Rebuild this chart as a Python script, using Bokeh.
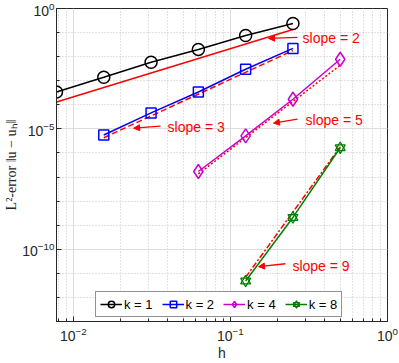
from bokeh.plotting import figure
from bokeh.models import (FixedTicker, Arrow, NormalHead, Legend, LegendItem,
                          ColumnDataSource, Range1d)
from bokeh.core.properties import value
from bokeh.embed import file_html
from bokeh.resources import INLINE

# ---- data ----
h_k1 = [1/128, 1/64, 1/32, 1/16, 1/8, 1/4]
err_k1 = [3.4e-4, 1.4e-3, 5.9e-3, 2.0e-2, 7.6e-2, 2.4e-1]
h_k2 = [1/64, 1/32, 1/16, 1/8, 1/4]
err_k2 = [5.6e-6, 4.6e-5, 3.4e-4, 3.0e-3, 2.2e-2]
h_k4 = [1/16, 1/8, 1/4, 1/2]
err_k4 = [1.7e-7, 5.1e-6, 1.7e-4, 7.8e-3]
h_k8 = [1/8, 1/4, 1/2]
err_k8 = [4.8e-12, 2.1e-9, 1.64e-6]

# reference slope lines (end points)
ref2_h = [1/128, 1/4]
ref2_e = [1.3e-4, 1.35e-1]
ref3_h = [1/64, 1/4]
ref3_e = [4.3e-6, 1.8e-2]
ref5_h = [1/16, 1/2]
ref5_e = [1.35e-7, 4.4e-3]
ref9_h = [1/8, 1/2]
ref9_e = [6.9e-12, 1.8e-6]

# annotations
slope_text = ["slope = 2", "slope = 3", "slope = 5", "slope = 9"]
slope_text_x = [0.288, 0.0398, 0.301, 0.248]
slope_text_y = [5.73e-2, 1.18e-5, 2.3e-5, 2.08e-11]
arrow_x0 = [0.267, 0.0359, 0.267, 0.224]
arrow_y0 = [6.3e-2, 1.3e-5, 2.53e-5, 2.5e-11]
arrow_x1 = [0.175, 0.0242, 0.188, 0.151]
arrow_y1 = [5.73e-2, 1.07e-5, 1.73e-5, 1.9e-11]

legend_labels = ["k = 1", "k = 2", "k = 4", "k = 8"]

x_major = [1e-2, 1e-1, 1e0]
x_minor = [m * 10.0**e for e in (-3, -2, -1) for m in range(2, 10)]
y_major = [1e-10, 1e-5, 1e0]
y_minor = [10.0**e for e in range(-13, 1)]

FONT = "Liberation Sans"
AX = "#262626"

p = figure(width=399, height=363, x_axis_type="log", y_axis_type="log",
           x_range=Range1d(1/128, 1), y_range=Range1d(1e-13, 1),
           output_backend="svg", toolbar_location=None,
           min_border_left=56, min_border_right=12, min_border_top=8, min_border_bottom=41)
p.styles = {"position": "absolute", "top": "0px", "left": "0px"}
p.background_fill_color = "white"
p.border_fill_color = "white"
p.outline_line_color = AX
p.outline_line_width = 1

xt = FixedTicker(ticks=x_major, minor_ticks=x_minor)
yt = FixedTicker(ticks=y_major, minor_ticks=y_minor)

for ax in (p.xaxis[0], p.yaxis[0]):
    ax.axis_line_color = AX
    ax.major_tick_line_color = AX
    ax.minor_tick_line_color = AX
    ax.major_tick_in = 5
    ax.major_tick_out = 0
    ax.minor_tick_in = 3
    ax.minor_tick_out = 0
    ax.major_label_text_font = FONT
    ax.major_label_text_font_size = "14px"
    ax.major_label_text_color = AX
    ax.axis_label_text_color = AX
p.xaxis[0].ticker = xt
p.yaxis[0].ticker = yt
p.xaxis[0].major_label_standoff = 5
p.yaxis[0].major_label_standoff = 2
p.xaxis[0].axis_label = "h"
p.xaxis[0].axis_label_text_font = FONT
p.xaxis[0].axis_label_text_font_size = "14px"
p.xaxis[0].axis_label_text_font_style = "normal"
p.xaxis[0].axis_label_standoff = 1
p.yaxis[0].axis_label = "L²-error ‖u − uₕ‖"
p.yaxis[0].axis_label_text_font = "Liberation Serif"
p.yaxis[0].axis_label_text_font_size = "14px"
p.yaxis[0].axis_label_text_font_style = "normal"
p.yaxis[0].axis_label_standoff = 0

p.grid.grid_line_color = "#dcdcdc"
p.grid.grid_line_width = 1
p.grid.minor_grid_line_color = "#c4c4c4"
p.grid.minor_grid_line_dash = "1 2"
p.grid.minor_grid_line_width = 1

RED = "#ff0000"
# reference lines
p.line(ref2_h, ref2_e, line_color=RED, line_width=1.5)
p.line(ref3_h, ref3_e, line_color=RED, line_width=1.5, line_dash="6 3")
p.line(ref5_h, ref5_e, line_color=RED, line_width=1.5, line_dash="2 2")
p.line(ref9_h, ref9_e, line_color=RED, line_width=1.5, line_dash="6 2 2 2")

items = []
l1 = p.line(h_k1, err_k1, line_color="black", line_width=1.5)
s1 = p.scatter(h_k1, err_k1, marker="circle", size=12, line_color="black",
               fill_color=None, line_width=1.5)
items.append(LegendItem(label=legend_labels[0], renderers=[l1, s1]))
l2 = p.line(h_k2, err_k2, line_color="#0000ff", line_width=1.5)
s2 = p.scatter(h_k2, err_k2, marker="square", size=10, line_color="#0000ff",
               fill_color=None, line_width=1.5)
items.append(LegendItem(label=legend_labels[1], renderers=[l2, s2]))
l4 = p.line(h_k4, err_k4, line_color="#cc00cc", line_width=1.5)
s4 = p.scatter(h_k4, err_k4, marker="diamond", size=14, line_color="#cc00cc",
               fill_color=None, line_width=1.5)
items.append(LegendItem(label=legend_labels[2], renderers=[l4, s4]))
l8 = p.line(h_k8, err_k8, line_color="#008000", line_width=1.5)
s8a = p.scatter(h_k8, err_k8, marker="triangle", size=10, line_color="#008000",
                fill_color=None, line_width=1.3)
s8b = p.scatter(h_k8, err_k8, marker="inverted_triangle", size=10, line_color="#008000",
                fill_color=None, line_width=1.3)
items.append(LegendItem(label=legend_labels[3], renderers=[l8, s8a, s8b]))

# annotations
for i in range(len(slope_text)):
    p.add_layout(Arrow(x_start=arrow_x0[i], y_start=arrow_y0[i],
                       x_end=arrow_x1[i], y_end=arrow_y1[i],
                       line_color=RED, line_width=1.3,
                       end=NormalHead(size=6, fill_color=RED, line_color=RED, line_width=1)))
src = ColumnDataSource(dict(x=slope_text_x, y=slope_text_y, t=slope_text))
p.text(x="x", y="y", text="t", source=src, text_color=RED, text_font=value(FONT),
       text_font_size="14px", text_align="left", text_baseline="middle")

legend = Legend(items=items, orientation="horizontal", location=(39, 4),
                label_text_font=FONT, label_text_font_size="13px",
                label_text_color="black", glyph_width=22, glyph_height=16,
                label_standoff=2, spacing=9, padding=4, margin=0,
                border_line_color=AX, border_line_width=1,
                background_fill_color="white", background_fill_alpha=1)
p.add_layout(legend, "center")

open("out.html", "w").write(file_html(p, INLINE))
